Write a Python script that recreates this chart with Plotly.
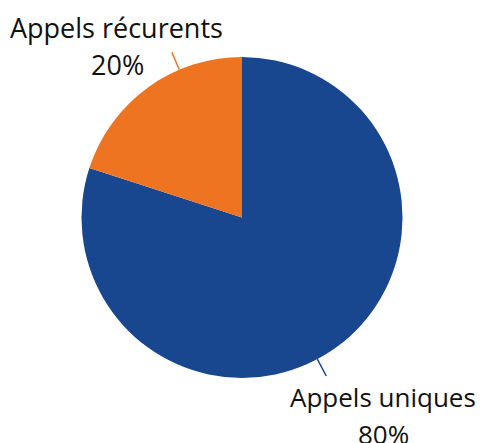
import math
import plotly.graph_objects as go

# données
labels = ["Appels uniques", "Appels récurents"]
values = [80, 20]
colors = ["#19478f", "#ee7421"]

W, H = 484, 443
# la page ajoute une marge de 8 px autour du graphique
M_L, M_R, M_T, M_B = 0, 16, 49, 73
PW, PH = W - M_L - M_R, H - M_T - M_B
R_PX = min(PW, PH) / 2  # rayon du camembert en pixels

fig = go.Figure(go.Pie(
    labels=labels,
    values=values,
    sort=False,
    direction="clockwise",
    rotation=0,
    marker=dict(colors=colors, line=dict(width=0)),
    textinfo="none",
    hoverinfo="label+percent",
    showlegend=False,
))

# lignes de rappel + étiquettes (angles calculés à partir des données)
total = sum(values)
start = 90.0
# décalage d'angle de la ligne, taille de police,
# position du texte par rapport au centre (px)
label_pos = {
    "Appels uniques": (-8, 26, (141, -179), (141, -216)),
    "Appels récurents": (-13, 27, (-126, 190), (-125, 153)),
}
cx, cy = 0.5, 0.5
for lab, val, col in zip(labels, values, colors):
    sweep = 360 * val / total
    rot, fsize, name_pos, pct_pos = label_pos[lab]
    mid = math.radians(start - sweep / 2 + rot)
    start -= sweep
    x0 = cx + R_PX * math.cos(mid) / PW
    y0 = cy + R_PX * math.sin(mid) / PH
    x1 = cx + (R_PX + 19) * math.cos(mid) / PW
    y1 = cy + (R_PX + 19) * math.sin(mid) / PH
    fig.add_shape(type="line", xref="paper", yref="paper",
                  x0=x0, y0=y0, x1=x1, y1=y1,
                  line=dict(color=col, width=1.5))
    pct = f"{round(100 * val / total)}%"
    for txt, (dx, dy) in ((lab, name_pos), (pct, pct_pos)):
        fig.add_annotation(x=cx, y=cy, xref="paper", yref="paper",
                           text=txt, showarrow=False,
                           xanchor="center", yanchor="middle",
                           xshift=dx, yshift=dy,
                           font=dict(size=fsize, color="#111111"))

fig.update_layout(
    width=W, height=H,
    margin=dict(l=M_L, r=M_R, t=M_T, b=M_B),
    paper_bgcolor="white",
    plot_bgcolor="white",
    font=dict(family="Open Sans", size=27, color="#111111"),
)

fig.write_html("out.html")
